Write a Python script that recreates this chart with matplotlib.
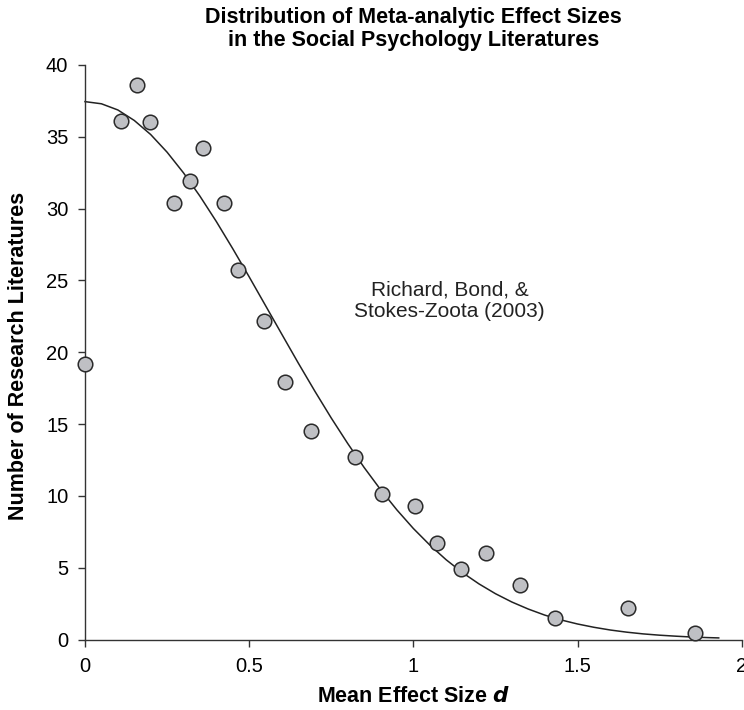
import numpy as np
import matplotlib
matplotlib.use('Agg')
import matplotlib.pyplot as plt
from matplotlib import rc

rc('font', **{'family': 'Liberation Sans', 'size': 14})

# meta-analytic effect sizes (mean d) and number of research literatures
effect_d = [0.00, 0.110, 0.158, 0.197, 0.270, 0.321, 0.359, 0.422, 0.466, 0.544, 0.610,
            0.688, 0.823, 0.906, 1.005, 1.071, 1.146, 1.222, 1.324, 1.430, 1.653, 1.858]
n_literatures = [19.2, 36.1, 38.6, 36.0, 30.4, 31.9, 34.2, 30.4, 25.7, 22.2, 17.9,
                 14.5, 12.7, 10.1, 9.3, 6.7, 4.9, 6.0, 3.8, 1.5, 2.2, 0.45]

# fitted curve
curve_d = [0.0, 0.05, 0.1, 0.15, 0.2, 0.25, 0.3, 0.35, 0.4, 0.45, 0.5, 0.55, 0.6, 0.65,
           0.7, 0.75, 0.8, 0.85, 0.9, 0.95, 1.0, 1.05, 1.1, 1.15, 1.2, 1.25, 1.3, 1.35,
           1.4, 1.45, 1.5, 1.55, 1.6, 1.65, 1.7, 1.75, 1.8, 1.85, 1.9, 1.93]
curve_n = [37.45, 37.30, 36.87, 36.14, 35.16, 33.93, 32.49, 30.87, 29.10, 27.21, 25.25,
           23.24, 21.23, 19.23, 17.29, 15.42, 13.65, 11.98, 10.44, 9.02, 7.73, 6.58,
           5.55, 4.65, 3.87, 3.19, 2.61, 2.12, 1.70, 1.36, 1.08, 0.85, 0.66, 0.51,
           0.39, 0.30, 0.23, 0.17, 0.13, 0.11]

x_ticks = [0, 0.5, 1, 1.5, 2]
x_tick_labels = ['0', '0.5', '1', '1.5', '2']
y_ticks = [0, 5, 10, 15, 20, 25, 30, 35, 40]

fig = plt.figure(figsize=(7.44, 7.10), dpi=100)
ax = fig.add_axes([85 / 744, 1 - 639.5 / 710, (741.7 - 85) / 744, (639.5 - 65) / 710])

ax.plot(curve_d, curve_n, color='#222222', linewidth=1.1, zorder=2, clip_on=False)
ax.plot(effect_d, n_literatures, linestyle='none', marker='o', markersize=10.5,
        markerfacecolor='#bfc0c4', markeredgecolor='#2a2a2a', markeredgewidth=1.1,
        zorder=3, clip_on=False)

ax.set_xlim(0, 2)
ax.set_ylim(0, 40)
ax.set_xticks(x_ticks)
ax.set_xticklabels(x_tick_labels)
ax.set_yticks(y_ticks)

for side in ['top', 'right']:
    ax.spines[side].set_visible(False)
for side in ['left', 'bottom']:
    ax.spines[side].set_color('#333333')
    ax.spines[side].set_linewidth(1.0)
ax.tick_params(direction='out', length=5, width=1.0, color='#333333', labelsize=14.5)
ax.tick_params(axis='x', pad=7.5)
ax.tick_params(axis='y', pad=7)

ax.text(1.11, 23.6, 'Richard, Bond, &\nStokes-Zoota (2003)', ha='center', va='center',
        fontsize=15, color='#222222', linespacing=1.2)

ax.set_xlabel(r'Mean Effect Size $\boldsymbol{d}$', fontsize=15.5, fontweight='bold')
ax.set_ylabel('Number of Research Literatures', fontsize=15.5, fontweight='bold')
ax.xaxis.set_label_coords(0.5, -0.1)
ax.xaxis.label.set_va('center')
ax.yaxis.set_label_coords(-0.102, 0.493)
ax.yaxis.label.set_va('center')
ax.set_title('Distribution of Meta-analytic Effect Sizes\nin the Social Psychology Literatures',
             fontsize=15.5, fontweight='bold', pad=14, linespacing=1.1)

fig.savefig('out.png', dpi=100)
